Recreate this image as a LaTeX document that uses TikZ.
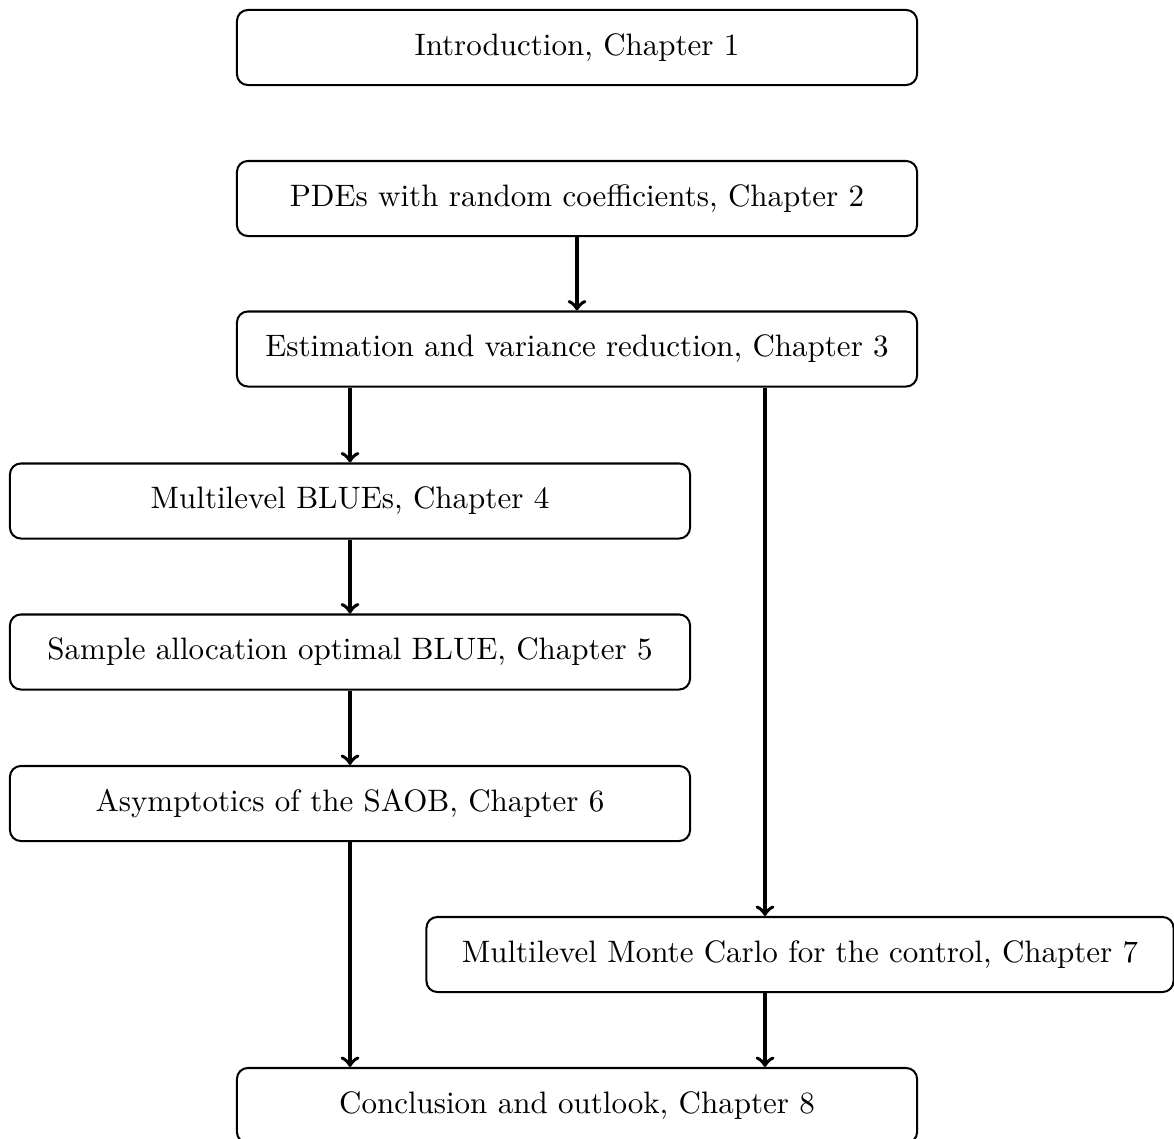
\documentclass[tikz,border=0pt]{standalone}
\usetikzlibrary{positioning}
\begin{document}
\begin{tikzpicture}[x=0.3226pt,y=-0.3226pt,
  chap/.style={draw,rounded corners=3.5pt,line width=0.65pt,minimum width=219.4pt,minimum height=24.2pt,inner sep=3.33pt,font=\normalsize},
  flow/.style={->,line width=1.2pt}]
\clip (0,0) rectangle (1174,1139);
\node[chap] (c1) at (577,47.5) {Introduction, Chapter 1};
\node[chap] (c2) at (577,198.5) {PDEs with random coefficients, Chapter 2};
\node[chap] (c3) at (577,349) {Estimation and variance reduction, Chapter 3};
\node[chap] (c4) at (350,501) {Multilevel BLUEs, Chapter 4};
\node[chap] (c5) at (350,652) {Sample allocation optimal BLUE, Chapter 5};
\node[chap] (c6) at (350,803.5) {Asymptotics of the SAOB, Chapter 6};
\node[chap,minimum width=241pt] (c7) at (800,954.5) {Multilevel Monte Carlo for the control, Chapter 7};
\node[chap] (c8) at (577,1105.5) {Conclusion and outlook, Chapter 8};
\coordinate (r3) at (765,386);
\coordinate (r7) at (765,917);
\draw[flow] (c2.south) -- (c3.north);
\draw[flow] (c3.south -| c4.north) -- (c4.north);
\draw[flow] (c4.south) -- (c5.north);
\draw[flow] (c5.south) -- (c6.north);
\draw[flow] (c6.south) -- (c6.south |- c8.north);
\draw[flow] (c3.south -| r3) -- (c7.north -| r3);
\draw[flow] (c7.south -| r7) -- (c8.north -| r7);
\end{tikzpicture}
\end{document}
